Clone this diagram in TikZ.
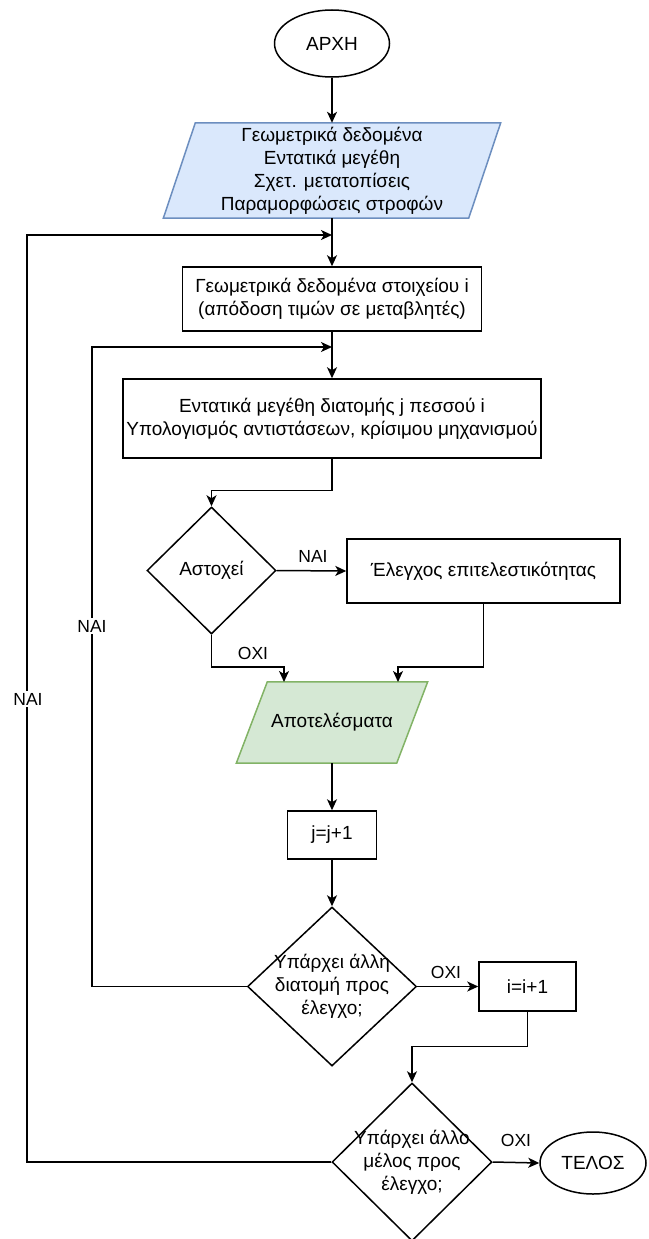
\documentclass[tikz,border=0pt]{standalone}
\usepackage{fontspec}
\setmainfont{Liberation Sans}
\usetikzlibrary{shapes.geometric,arrows.meta,calc,backgrounds}
\definecolor{inblue}{HTML}{DAE8FC}
\definecolor{inbluedraw}{HTML}{6C8EBF}
\definecolor{outgreen}{HTML}{D5E8D4}
\definecolor{outgreendraw}{HTML}{82B366}

\begin{document}
\begin{tikzpicture}[x=1pt,y=-1pt,
  every node/.style={font=\fontsize{19}{23}\selectfont, align=center},
  proc/.style={draw, line width=1.5pt, rectangle, inner sep=0pt},
  term/.style={draw, ellipse, line width=1.5pt, inner sep=0pt},
  decide/.style={draw, diamond, line width=1.5pt, inner sep=0pt},
  io/.style={rectangle, inner sep=0pt},
  flow/.style={line width=1.5pt, -{Stealth[length=11pt,width=10pt,inset=3pt]}},
  link/.style={line width=1.5pt},
  lbl/.style={fill=white, inner sep=1.5pt, font=\fontsize{17.5}{20}\selectfont}
]
\useasboundingbox (0,0) rectangle (648,1239);

% nodes of the main column
\node[term, minimum width=115pt, minimum height=67pt] (start) at (332,43.5) {ΑΡΧΗ};
\node[io, minimum width=337pt, minimum height=95pt] (data) at (332,170.5)
  {Γεωμετρικά δεδομένα\\Εντατικά μεγέθη\\Σχετ. μετατοπίσεις\\Παραμορφώσεις στροφών};
\node[proc, minimum width=299pt, minimum height=64pt] (elem) at (332,299)
  {Γεωμετρικά δεδομένα στοιχείου i\\(απόδοση τιμών σε μεταβλητές)};
\node[proc, minimum width=418pt, minimum height=79pt] (sect) at (332,418.5)
  {Εντατικά μεγέθη διατομής j πεσσού i\\Υπολογισμός αντιστάσεων, κρίσιμου μηχανισμού};
\node[decide, minimum width=129pt, minimum height=127pt,
  label={center:Αστοχεί}] (fail) at (211.5,570.5) {};
\node[proc, minimum width=273pt, minimum height=64pt] (ctrl) at (483.5,571)
  {Έλεγχος επιτελεστικότητας};
\node[io, minimum width=191pt, minimum height=81pt] (res) at (332,722.5) {Αποτελέσματα};
\node[proc, minimum width=89pt, minimum height=48pt] (jinc) at (332,835) {j=j+1};
\node[decide, minimum width=169pt, minimum height=159pt,
  label={[align=center]center:Υπάρχει άλλη\\διατομή προς\\έλεγχο;}] (more2) at (332,986.5) {};
\node[proc, minimum width=97pt, minimum height=49pt] (iinc) at (527.5,986.5) {i=i+1};
\node[decide, minimum width=160pt, minimum height=158pt,
  label={[align=center]center:Υπάρχει άλλο\\μέλος προς\\έλεγχο;}] (more3) at (412,1162) {};
\node[term, minimum width=106pt, minimum height=62pt] (stop) at (593,1163) {ΤΕΛΟΣ};

% parallelogram outlines behind the input and output nodes
\begin{scope}[on background layer]
  \filldraw[fill=inblue, draw=inbluedraw, line width=1.5pt]
    ($(data.north west)+(32,0)$) -- (data.north east)
    -- ($(data.south east)+(-32,0)$) -- (data.south west) -- cycle;
  \filldraw[fill=outgreen, draw=outgreendraw, line width=1.5pt]
    ($(res.north west)+(31,0)$) -- (res.north east)
    -- ($(res.south east)+(-31,0)$) -- (res.south west) -- cycle;
\end{scope}

% junctions and loop corners
\coordinate (m1) at (332,235);
\coordinate (m2) at (332,347);
\coordinate (loopA) at (27,235);
\coordinate (loopB) at (92,347);
\coordinate (resA) at (284,682);
\coordinate (resB) at (398,682);

% connectors
\draw[flow] (start) -- (data);
\draw[link] (data.south) -- (m1);
\draw[flow] (m1) -- (elem.north);
\draw[link] (elem.south) -- (m2);
\draw[flow] (m2) -- (sect.north);
\draw[flow] (sect.south) |- ($(fail.north)+(0,-16)$) -- (fail.north);
\draw[flow] (fail.east) -- (ctrl.west);
\draw[flow] (fail.south) |- ($(resA)+(0,-15)$) -- (resA);
\draw[flow] (ctrl.south) |- ($(resB)+(0,-15)$) -- (resB);
\draw[flow] (res.south) -- (jinc.north);
\draw[flow] (jinc.south) -- (more2.north);
\draw[flow] (more2.east) -- (iinc.west);
\draw[flow] (more2.west) -| (loopB) -- (m2);
\draw[flow] (iinc.south) |- ($(more3.north)+(0,-36)$) -- (more3.north);
\draw[flow] (more3.east) -- (stop.west);
\draw[flow] (more3.west) -| (loopA) -- (m1);

% connector labels
\node[lbl] (yes1) at (313,556) {ΝΑΙ};
\node[lbl] (no1) at (253,653) {ΟΧΙ};
\node[lbl] (no2) at (446,972) {ΟΧΙ};
\node[lbl] (no3) at (516,1140) {ΟΧΙ};
\node[lbl] (yes2) at (92,626) {ΝΑΙ};
\node[lbl] (yes3) at (28,699) {ΝΑΙ};
\end{tikzpicture}
\end{document}
